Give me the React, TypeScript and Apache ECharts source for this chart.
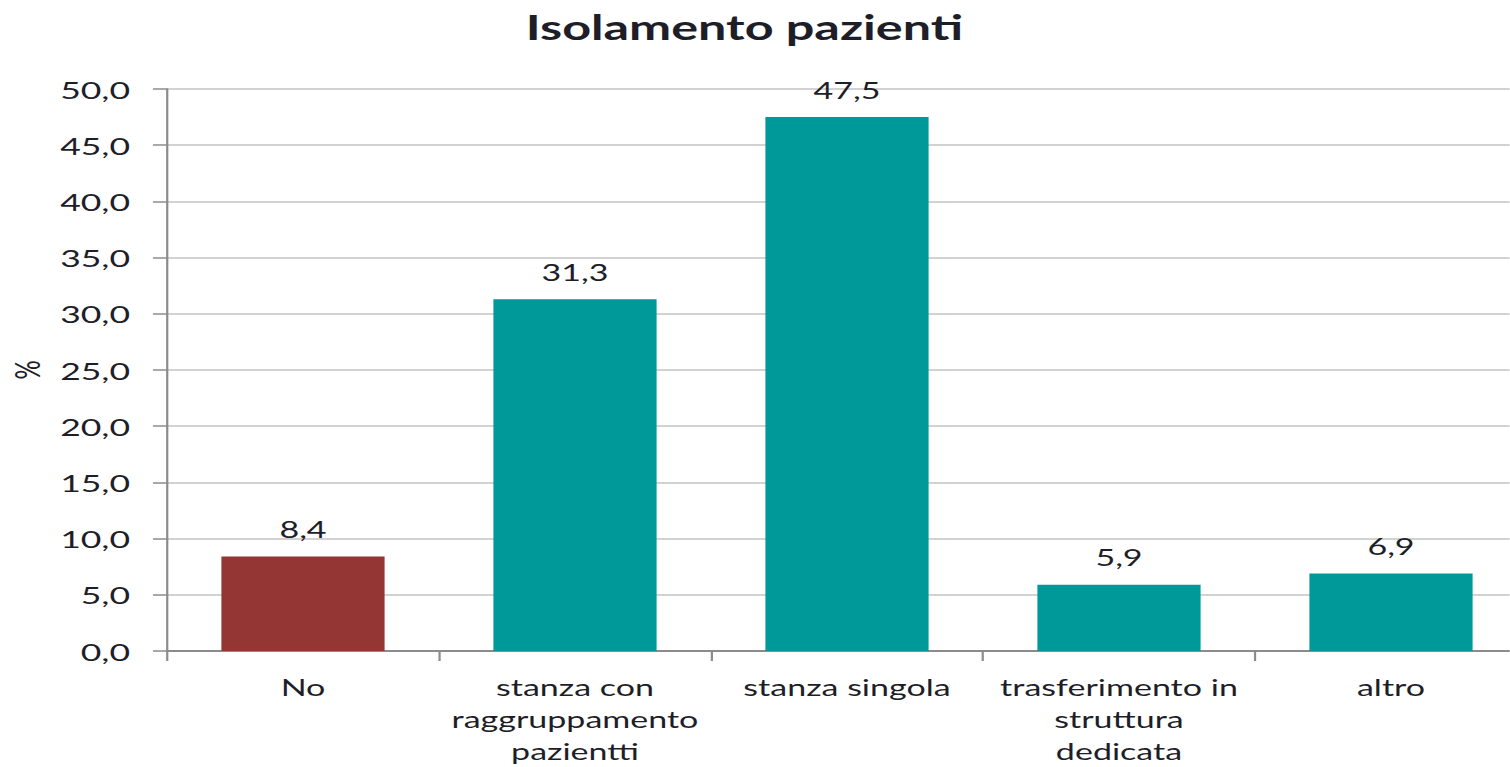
import React, { useEffect, useRef } from "react";
import * as echarts from "echarts";

const categories = [
  "No",
  "stanza con\nraggruppamento\npazientti",
  "stanza singola",
  "trasferimento in\nstruttura\ndedicata",
  "altro",
];
const values = [8.4, 31.3, 47.5, 5.9, 6.9];
const barColors = ["#943634", "#009999", "#009999", "#009999", "#009999"];
const yTicks = { min: 0, max: 50, interval: 5 };
const titleText = "Isolamento pazienti";
const yName = "%";

const S = 1.48; // horizontal stretch of the reference picture
const W = 1510 / S;
const H = 767;

const fmt = (v: number) => v.toFixed(1).replace(".", ",");

export default function App() {
  const ref = useRef<HTMLDivElement>(null);
  useEffect(() => {
    if (!ref.current) return;
    const chart = echarts.init(ref.current, null, { renderer: "svg" });
    const font = "Lato, 'Open Sans', sans-serif";
    const textColor = "#1e1e28";
    const band = 272 / S;
    chart.setOption({
      animation: false,
      backgroundColor: "#ffffff",
      title: {
        text: titleText,
        left: 737 / S,
        top: 5,
        textAlign: "center",
        textStyle: { fontFamily: font, fontSize: 34, fontWeight: "bold", color: textColor },
      },
      grid: {
        left: 167 / S,
        top: 89,
        width: band * categories.length,
        height: 562,
        containLabel: false,
        outerBoundsMode: "none",
      },
      xAxis: {
        type: "category",
        data: categories,
        boundaryGap: true,
        axisLine: { show: true, lineStyle: { color: "#8c8c8c", width: 2 } },
        axisTick: { show: true, length: 10, alignWithLabel: false, lineStyle: { color: "#8c8c8c", width: 1.5 } },
        axisLabel: {
          interval: 0,
          margin: 20,
          fontFamily: font,
          fontSize: 23,
          lineHeight: 32,
          color: textColor,
        },
      },
      yAxis: {
        type: "value",
        min: yTicks.min,
        max: yTicks.max,
        interval: yTicks.interval,
        name: yName,
        nameLocation: "middle",
        nameGap: 81,
        nameRotate: 90,
        nameTextStyle: { fontFamily: font, fontSize: 24, color: textColor },
        axisLine: { show: true, lineStyle: { color: "#8c8c8c", width: 1.5 } },
        axisTick: { show: true, length: 9.5, lineStyle: { color: "#8c8c8c", width: 1.5 } },
        axisLabel: {
          margin: 25,
          fontFamily: font,
          fontSize: 24,
          color: textColor,
          formatter: (v: number) => fmt(v),
        },
        splitLine: { show: true, lineStyle: { color: "#d2d2d2", width: 2 } },
      },
      series: [
        {
          type: "bar",
          barCategoryGap: "40%",
          data: values.map((v, i) => ({ value: v, itemStyle: { color: barColors[i] } })),
          label: {
            show: true,
            position: "top",
            distance: 16,
            fontFamily: font,
            fontSize: 23,
            color: textColor,
            formatter: (p: any) => fmt(p.value),
          },
        },
      ],
    });
    return () => chart.dispose();
  }, []);
  return (
    <div
      ref={ref}
      style={{
        position: "fixed",
        left: 0,
        top: 0,
        width: W,
        height: H,
        transform: `scaleX(${S})`,
        transformOrigin: "0 0",
        background: "#fff",
      }}
    />
  );
}
